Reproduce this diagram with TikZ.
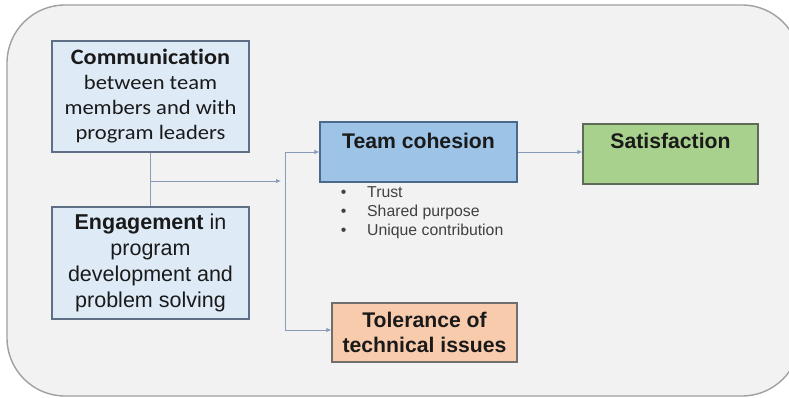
\documentclass[tikz,border=0pt]{standalone}
\usepackage{fontspec}
\setmainfont{Liberation Sans}
\newfontfamily\carlito[FakeStretch=1.1,Ligatures=NoCommon]{Carlito}
\usetikzlibrary{arrows.meta}
\definecolor{outerfill}{HTML}{F2F2F2}
\definecolor{outerline}{HTML}{A0A0A0}
\definecolor{lblue}{HTML}{DEEBF7}
\definecolor{lblueline}{HTML}{5F6F86}
\definecolor{mblue}{HTML}{9DC3E6}
\definecolor{mblueline}{HTML}{4A6A8C}
\definecolor{lgreen}{HTML}{A9D18E}
\definecolor{greenline}{HTML}{5E6B58}
\definecolor{peach}{HTML}{F8CBAD}
\definecolor{peachline}{HTML}{6F6F6F}
\definecolor{conn}{HTML}{8A9BB8}
\definecolor{txt}{HTML}{1A1A1A}
\definecolor{btxt}{HTML}{404040}
\tikzset{
  box/.style={draw, line width=1.2pt, rectangle, align=center, inner sep=0pt, text=txt},
  arr/.style={draw=conn, line width=0.9pt, -{Latex[length=5pt,width=4.5pt]}},
  ln/.style={draw=conn, line width=0.9pt},
}
\begin{document}
\begin{tikzpicture}[x=1pt,y=-1pt]
\useasboundingbox (0,0) rectangle (789,398);
\fill[white] (0,0) rectangle (789,398);
\draw[fill=outerfill, draw=outerline, line width=1.4pt, rounded corners=58pt] (7,5) rectangle (800,396);

\node[box, fill=lblue, draw=lblueline, minimum width=197pt, minimum height=111pt, font=\fontsize{20.5}{25}\selectfont\carlito]
  (comm) at (150.5,96.5) {{\fontsize{22}{25}\selectfont\textbf{Communication}}\\between team\\members and with\\program leaders};
\node[box, fill=lblue, draw=lblueline, minimum width=197pt, minimum height=112pt, font=\fontsize{21.5}{26}\selectfont]
  (eng) at (150.5,263) {\textbf{Engagement} in\\program\\development and\\problem solving};
\node[box, fill=mblue, draw=mblueline, minimum width=197pt, text height=27pt, text depth=33pt, font=\fontsize{21.2}{24}\selectfont\bfseries]
  (team) at (418.5,152) {Team cohesion};
\node[box, fill=lgreen, draw=greenline, minimum width=175pt, text height=25pt, text depth=35pt, font=\fontsize{21.2}{24}\selectfont\bfseries]
  (sat) at (670.5,154) {Satisfaction};
\node[box, fill=peach, draw=peachline, minimum width=185pt, minimum height=59pt, font=\fontsize{21.2}{25}\selectfont\bfseries]
  (tol) at (424.5,332.5) {Tolerance of\\technical issues};

\node[anchor=north west, inner sep=0pt, text=btxt, font=\fontsize{15.8}{19.3}\selectfont, align=left] (bul) at (338,186)
  {\makebox[29pt][l]{\,\textbullet}Trust\\\makebox[29pt][l]{\,\textbullet}Shared purpose\\\makebox[29pt][l]{\,\textbullet}Unique contribution};

\coordinate (j1) at (151,181);
\coordinate (a1) at (281,181);
\coordinate (t1) at (285,152);
\coordinate (t2) at (285,330);

\draw[ln] (comm.south) -- (eng.north);
\draw[arr] (j1) -- (a1);
\draw[ln] (t1) -- (t2);
\draw[arr] (t1) -- (t1 -| team.west);
\draw[arr] (t2) -- (t2 -| tol.west);
\draw[arr] (team.east) -- (team.east -| sat.west);
\end{tikzpicture}
\end{document}
